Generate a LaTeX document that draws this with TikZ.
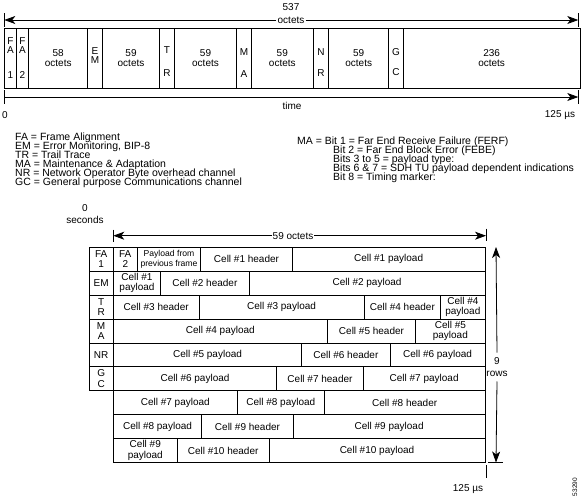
\documentclass[tikz,border=0pt]{standalone}
\usepackage{fontspec}
\setmainfont{Liberation Sans}
\usetikzlibrary{arrows.meta, positioning, calc}

\begin{document}
\begin{tikzpicture}[x=1pt, y=-1pt,
            lbl/.style={font=\fontsize{10}{10.5}\selectfont, inner sep=1pt, align=center},
            narrow/.style={font=\fontsize{10}{8.6}\selectfont, inner sep=1pt, align=center},
            leg/.style={font=\fontsize{10.5}{9}\selectfont, inner sep=0pt, anchor=base west},
            dim/.style={line width=0.8pt, -{Stealth[length=11pt, width=8pt, inset=3pt]}},
            box/.style={line width=0.8pt}]
            \useasboundingbox (0,0) rectangle (583,496);
            % frame of 537 octets
            \foreach \xa/\xb/\ya/\txt [count=\n] in {4.5/16.3/45.5/{F\\A}, 16.3/28.7/45.5/{F\\A},
                87.7/102.3/55.8/{E\\M}, 159.7/174.3/50/T, 236.7/251.3/51.7/M,
                313.3/328.7/51.7/N, 388.7/403.3/51.7/G} {
                \draw[box] (\xa,28) rectangle (\xb,88);
                \node[narrow] (top\n) at ({(\xa+\xb)/2},\ya) {\txt};
            }
            \foreach \xa/\xb/\num [count=\n] in {28.7/87.7/58, 102.3/159.7/59, 174.3/236.7/59,
                251.3/313.3/59, 328.7/388.7/59, 403.3/580/236} {
                \draw[box] (\xa,28) rectangle (\xb,88);
                \node[lbl] (part\n) at ({(\xa+\xb)/2},58.3) {\num\\octets};
            }
            \foreach \x/\y/\txt [count=\n] in {10.4/75/1, 22.5/75/2, 167/73.3/R, 244/74/A,
                321/73.3/R, 396/72/C} {
                \node[lbl] (low\n) at (\x,\y) {\txt};
            }
            \coordinate (totL) at (4.3,20);
            \coordinate (totR) at (578.3,20);
            \node[lbl] (totNum) at (291,7) {537};
            \node[lbl] (tot) at (291,20) {octets};
            \draw[dim] (tot.west) -- (totL);
            \draw[dim] (tot.east) -- (totR);
            \draw[box] (totL) +(0,-7) -- +(0,7);
            \draw[box] (totR) +(0,-7) -- +(0,7);
            \coordinate (timeL) at (4.3,97);
            \coordinate (timeR) at (578.3,97);
            \draw[dim] (timeL) -- (timeR);
            \draw[box] (timeL) +(0,-7) -- +(0,7);
            \draw[box] (timeR) +(0,-7) -- +(0,7);
            \node[lbl] (time) at (292,106) {time};
            \node[lbl] (time0) at (5,115) {0};
            \node[lbl] (timeEnd) at (560,115) {125 µs};
            % legend
            \foreach \txt [count=\k] in {{FA = Frame Alignment}, {EM = Error Monitoring, BIP-8},
                {TR = Trail Trace}, {MA = Maintenance \& Adaptation},
                {NR = Network Operator Byte overhead channel},
                {GC = General purpose Communications channel}} {
                \node[leg] (legL\k) at (15,{140+9*(\k-1)}) {\txt};
            }
            \node[leg] (legR1) at (297,144.5) {MA = Bit 1 = Far End Receive Failure (FERF)};
            \foreach \txt [count=\k from 2] in {{Bit 2 = Far End Block Error (FEBE)},
                {Bits 3 to 5 = payload type:}, {Bits 6 \& 7 = SDH TU payload dependent indications},
                {Bit 8 = Timing marker:}} {
                \node[leg] (legR\k) at (333,{144.5+9*(\k-1)}) {\txt};
            }
            % 9 rows of 59 octets
            \node[lbl, font=\fontsize{10}{12}\selectfont] (sec0) at (85,214) {0\\seconds};
            \foreach \r/\xa/\xb/\txt [count=\n] in {
                1/89/113.3/{FA\\1}, 1/113.3/137.3/{FA\\2},
                1/137.3/200.7/{\fontsize{8.6}{10.5}\selectfont Payload from\\\fontsize{8.6}{10.5}\selectfont previous frame},
                1/200.7/292.3/{Cell \#1 header}, 1/292.3/485/{Cell \#1 payload},
                2/89/113.3/EM, 2/113.3/160.7/{Cell \#1\\payload}, 2/160.7/249/{Cell \#2 header},
                2/249/485/{Cell \#2 payload},
                3/89/113.3/{T\\R}, 3/113.3/199/{Cell \#3 header}, 3/199/364/{Cell \#3 payload},
                3/364/440.7/{Cell \#4 header}, 3/440.7/485/{Cell \#4\\payload},
                4/89/113.3/{M\\A}, 4/113.3/327.3/{Cell \#4 payload}, 4/327.3/415.7/{Cell \#5 header},
                4/415.7/485/{Cell \#5\\payload},
                5/89/113.3/NR, 5/113.3/301.7/{Cell \#5 payload}, 5/301.7/390/{Cell \#6 header},
                5/390/485/{Cell \#6 payload},
                6/89/113.3/{G\\C}, 6/113.3/276.7/{Cell \#6 payload}, 6/276.7/363.3/{Cell \#7 header},
                6/363.3/485/{Cell \#7 payload},
                7/113.3/237.3/{Cell \#7 payload}, 7/237.3/324.3/{Cell \#8 payload},
                7/324.3/485/{Cell \#8 header},
                8/113.3/201.7/{Cell \#8 payload}, 8/201.7/293.3/{Cell \#9 header},
                8/293.3/485/{Cell \#9 payload},
                9/113.3/177.3/{Cell \#9\\payload}, 9/177.3/269/{Cell \#10 header},
                9/269/485/{Cell \#10 payload}} {
                \pgfmathsetmacro\ya{247.3+23.9*(\r-1)}
                \pgfmathsetmacro\yb{\ya+23.9}
                \draw[box] (\xa,\ya) rectangle (\xb,\yb);
                \node[lbl] (cell\n) at ({(\xa+\xb)/2},{(\ya+\yb)/2}) {\txt};
            }
            \coordinate (octL) at (113.3,235.7);
            \coordinate (octR) at (486,235.7);
            \node[lbl] (oct) at (293,235.7) {59 octets};
            \draw[dim] (oct.west) -- (octL);
            \draw[dim] (oct.east) -- (octR);
            \draw[box] (octL) +(0,-6) -- +(0,6);
            \draw[box] (octR) +(0,-7) -- +(0,5);
            \coordinate (rowT) at (496,247);
            \coordinate (rowB) at (496,462.5);
            \node[lbl, font=\fontsize{10}{11.5}\selectfont, inner sep=5pt] (rows) at (497,367) {9\\rows};
            \draw[dim] (rows.north) -- (rowT);
            \draw[dim] (rows.south) -- (rowB);
            \draw[box] (rowB) +(-8,0) -- +(7,0);
            \coordinate (endT) at (486.7,465);
            \draw[box] (endT) -- ++(0,13);
            \node[lbl] (endTime) at (468,489) {125 µs};
            \node[font=\fontsize{6.5}{6.5}\selectfont, rotate=90, inner sep=0pt] (figNo) at (575,487) {53290};
        \end{tikzpicture}
\end{document}
